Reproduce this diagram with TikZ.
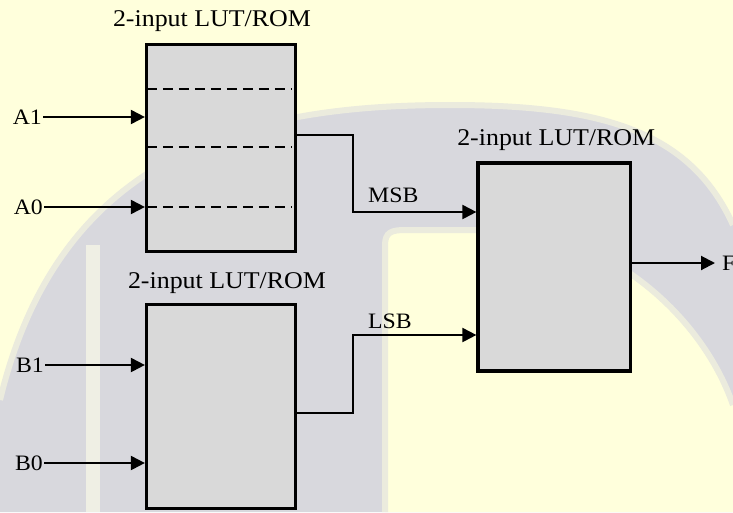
\documentclass[tikz,border=0pt]{standalone}
\usepackage{fontspec}
\setmainfont{Liberation Serif}[FakeStretch=1.08]
\usetikzlibrary{arrows.meta,positioning}

\definecolor{cream}{HTML}{FFFFDC}
\definecolor{crest}{HTML}{D8D8DD}
\definecolor{boxgray}{HTML}{D9D9D9}

\tikzset{
  lut/.style={draw, line width=3.2pt, fill=boxgray, minimum width=149pt, inner sep=0pt},
  lbl/.style={font=\fontsize{22}{26}\selectfont, inner sep=1pt},
  ttl/.style={font=\fontsize{24}{28}\selectfont, inner sep=1pt},
  sig/.style={line width=2pt, -{Triangle[length=14pt,width=14pt]}},
  rowline/.style={line width=1.5pt, dash pattern=on 10pt off 6pt},
  soft/.style={draw=crest!50!cream, line width=6pt},
}

\begin{document}
\begin{tikzpicture}[x=1pt, y=-1pt]

		% background

		\useasboundingbox (0,0) rectangle (733,512);

		\fill[cream] (0,0) rectangle (733,512);

		\fill[crest] (0,400) .. controls (60,150) and (250,105) .. (450,105)
		  .. controls (600,105) and (690,130) .. (733,225) -- (733,512) -- (0,512) -- cycle;

		\draw[soft] (0,400) .. controls (60,150) and (250,105) .. (450,105)
		  .. controls (600,105) and (690,130) .. (733,225);

		\fill[cream] (385,512) -- (385,245) .. controls (385,232) and (392,230) .. (405,230)
		  -- (500,230) .. controls (600,230) and (700,310) .. (733,405) -- (733,512) -- cycle;

		\draw[soft] (385,512) -- (385,245) .. controls (385,232) and (392,230) .. (405,230)
		  -- (500,230) .. controls (600,230) and (700,310) .. (733,405);

		\fill[cream!60!white, opacity=0.6] (86,245) rectangle (100,512);

		% define blocks

		\node[lut, minimum height=207pt] (boxA) at (221,148) {};

		\node[lut, minimum height=204pt] (boxB) at (221,406.5) {};

		\node[lut, minimum width=152.5pt, minimum height=208pt] (boxC) at (554.25,267) {};

		\node[ttl, anchor=base] (titleA) at ([xshift=-9pt, yshift=16pt]boxA.north) {2-input LUT/ROM};

		\node[ttl, anchor=base] (titleB) at ([xshift=6pt, yshift=14pt]boxB.north) {2-input LUT/ROM};

		\node[ttl, anchor=base] (titleC) at ([xshift=2pt, yshift=16pt]boxC.north) {2-input LUT/ROM};

		% rows of the table

		\foreach \dy in {59,1,-59}
		  \draw[rowline] ([xshift=2pt, yshift=\dy pt]boxA.west) -- ([xshift=-5pt, yshift=\dy pt]boxA.east);

		% inputs

		\node[lbl, anchor=east] (a1) at (43,117) {A1};

		\node[lbl, anchor=east] (a0) at (44,207) {A0};

		\node[lbl, anchor=east] (b1) at (45,365) {B1};

		\node[lbl, anchor=east] (b0) at (44,463) {B0};

		\draw[sig] (a1) -- (a1 -| boxA.west);

		\draw[sig] (a0) -- (a0 -| boxA.west);

		\draw[sig] (b1) -- (b1 -| boxB.west);

		\draw[sig] (b0) -- (b0 -| boxB.west);

		% outputs

		\coordinate (outA)  at ([yshift=13pt]boxA.east);

		\coordinate (outB)  at ([yshift=-6.5pt]boxB.east);

		\coordinate (inMSB) at ([yshift=55pt]boxC.west);

		\coordinate (inLSB) at ([yshift=-68pt]boxC.west);

		\coordinate (bendA) at (353,212);

		\coordinate (bendB) at (353,335);

		\draw[sig] (outA) -| (bendA) -- (inMSB);

		\draw[sig] (outB) -| (bendB) -- (inLSB);

		\node[lbl, anchor=base west] (msb) at ([xshift=14pt, yshift=10pt]bendA) {MSB};

		\node[lbl, anchor=base west] (lsb) at ([xshift=14pt, yshift=7pt]bendB) {LSB};

		\node[lbl, anchor=west, inner sep=0pt] (f) at (722,263) {F};

		\draw[sig] ([yshift=4pt]boxC.east) -- ([xshift=-7pt]f.west);

\end{tikzpicture}
\end{document}
